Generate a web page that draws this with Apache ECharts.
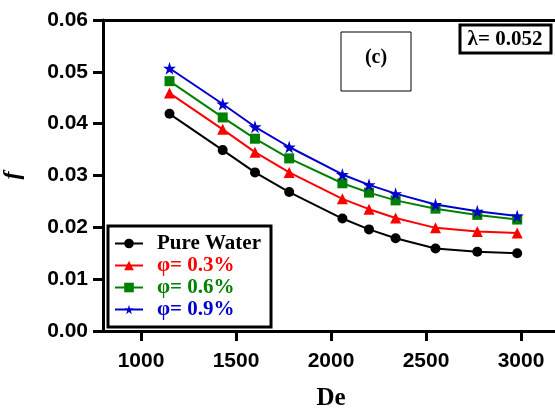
<!DOCTYPE html>
<html>
<head>
<meta charset="utf-8">
<script src="https://cdn.jsdelivr.net/npm/echarts@6/dist/echarts.min.js"></script>
<style>
  html, body { margin: 0; padding: 0; background: #fff; }
  #chart { width: 555px; height: 410px; }
</style>
</head>
<body>
<div id="chart"></div>
<script>
// De values (x)
const deValues = [1150, 1430, 1600, 1780, 2060, 2200, 2340, 2550, 2770, 2980]
// friction factor f for each case
const pureWater = [0.0419, 0.0349, 0.0306, 0.0268, 0.0217, 0.0196, 0.0179, 0.0159, 0.0153, 0.0150]
const phi03 = [0.0459, 0.0389, 0.0345, 0.0306, 0.0255, 0.0235, 0.0218, 0.0199, 0.0192, 0.0189]
const phi06 = [0.0482, 0.0412, 0.0371, 0.0333, 0.0285, 0.0267, 0.0252, 0.0236, 0.0224, 0.0215]
const phi09 = [0.0507, 0.0438, 0.0394, 0.0355, 0.0302, 0.0282, 0.0265, 0.0244, 0.0231, 0.0222]
const seriesNames = ['Pure Water', 'φ= 0.3%', 'φ= 0.6%', 'φ= 0.9%']
const xTicks = [1000, 1500, 2000, 2500, 3000]
const yTicks = [0, 0.01, 0.02, 0.03, 0.04, 0.05, 0.06]

const colors = ['#000000', '#ff0000', '#008000', '#0000cc']
const symbols = ['circle', 'triangle', 'rect',
  'path://M50,0 L61,35 L98,35 L68,57 L79,91 L50,70 L21,91 L32,57 L2,35 L39,35 Z']
const symbolSizes = [10, 11, 10, 13]
const allData = [pureWater, phi03, phi06, phi09]

const chart = echarts.init(document.getElementById('chart'))

const tickFont = {
  fontFamily: 'Liberation Sans, Arial, sans-serif',
  fontWeight: 'bold',
  fontSize: 21,
  color: '#000'
}

const series = allData.map((vals, i) => ({
  name: seriesNames[i],
  type: 'line',
  data: vals.map((v, j) => [deValues[j], v]),
  symbol: symbols[i],
  symbolSize: symbolSizes[i],
  color: colors[i],
  lineStyle: { color: colors[i], width: 2 },
  itemStyle: { color: colors[i] },
  z: 3 + i
}))

chart.setOption({
  animation: false,
  grid: {
    left: 103, right: -4, top: 20, bottom: 79,
    containLabel: false, outerBoundsMode: 'none'
  },
  legend: {
    left: 109,
    top: 228,
    orient: 'vertical',
    itemWidth: 28,
    itemHeight: 12,
    itemGap: 1,
    data: seriesNames.map((n, i) => ({
      name: n,
      textStyle: {
        color: colors[i],
        fontFamily: 'Liberation Serif, Times New Roman, serif',
        fontWeight: 'bold',
        fontSize: 21,
        lineHeight: 21,
        padding: [0, 0, 0, 9]
      }
    }))
  },
  xAxis: [{
    type: 'value',
    min: 800,
    max: 3200,
    interval: 100,
    name: 'De',
    nameLocation: 'middle',
    nameGap: 55,
    nameTextStyle: {
      fontFamily: 'Liberation Serif, Times New Roman, serif',
      fontWeight: 'bold',
      fontSize: 25,
      color: '#000'
    },
    axisLine: { lineStyle: { color: '#000', width: 3 } },
    axisTick: {
      show: true, length: 10, lineStyle: { color: '#000', width: 3 },
      customValues: xTicks
    },
    axisLabel: Object.assign({
      margin: 20,
      customValues: xTicks,
      formatter: v => String(v)
    }, tickFont),
    splitLine: { show: false }
  }, {
    type: 'value',
    position: 'top',
    min: 800,
    max: 3200,
    axisLine: { show: true, onZero: false, lineStyle: { color: '#000', width: 3 } },
    axisTick: { show: false },
    axisLabel: { show: false },
    splitLine: { show: false }
  }],
  yAxis: {
    type: 'value',
    min: 0,
    max: 0.06,
    interval: 0.01,
    name: 'f',
    nameLocation: 'middle',
    nameGap: 78,
    nameTextStyle: {
      fontFamily: 'Liberation Serif, Times New Roman, serif',
      fontStyle: 'italic',
      fontWeight: 'bold',
      fontSize: 24,
      color: '#000'
    },
    axisLine: { show: true, lineStyle: { color: '#000', width: 3 } },
    axisTick: { show: true, length: 10, lineStyle: { color: '#000', width: 3 } },
    axisLabel: Object.assign({
      margin: 15,
      customValues: yTicks,
      formatter: v => v.toFixed(2)
    }, tickFont),
    splitLine: { show: false }
  },
  graphic: [
    {
      type: 'rect',
      shape: { x: 108, y: 226, width: 163, height: 101 },
      style: { fill: 'rgba(255,255,255,0)', stroke: '#000', lineWidth: 3 },
      z: 0
    },
    {
      type: 'rect',
      shape: { x: 341, y: 32, width: 70, height: 59 },
      style: { fill: '#fff', stroke: '#000', lineWidth: 1 }
    },
    {
      type: 'text',
      x: 376,
      y: 58,
      style: {
        text: '(c)',
        font: 'bold 20px "Liberation Serif", serif',
        fill: '#000',
        align: 'center',
        verticalAlign: 'middle'
      }
    },
    {
      type: 'rect',
      shape: { x: 460, y: 25, width: 91, height: 28 },
      style: { fill: '#fff', stroke: '#000', lineWidth: 3 }
    },
    {
      type: 'text',
      x: 505,
      y: 40,
      style: {
        text: 'λ= 0.052',
        font: 'bold 21px "Liberation Serif", serif',
        fill: '#000',
        align: 'center',
        verticalAlign: 'middle'
      }
    }
  ],
  series: series
})
</script>
</body>
</html>
